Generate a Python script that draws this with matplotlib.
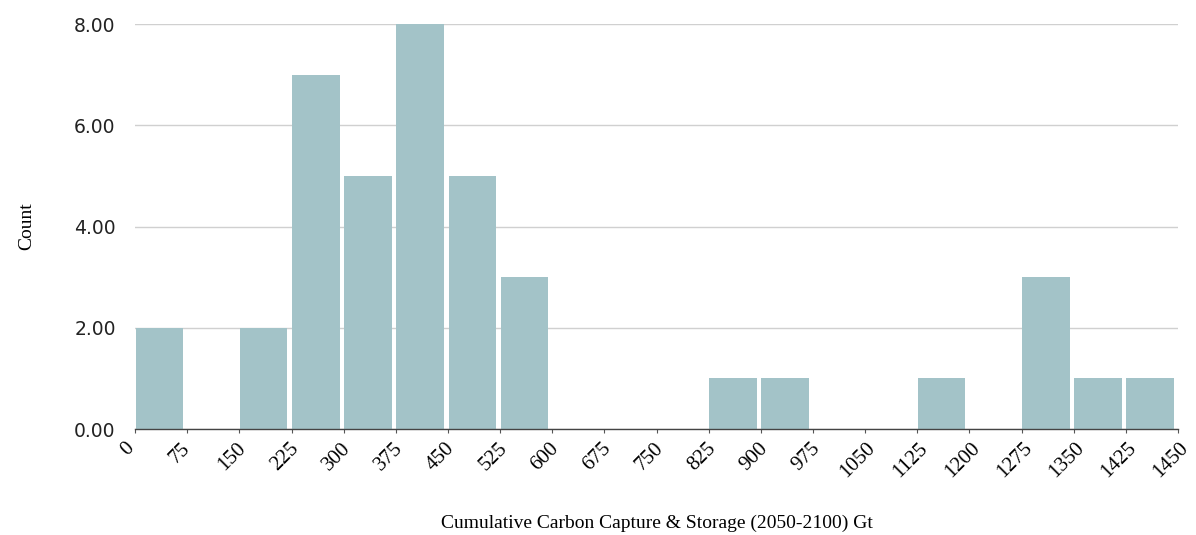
import matplotlib
matplotlib.use('Agg')
import matplotlib.pyplot as plt
import matplotlib.transforms as mtrans
import numpy as np

# bin edges (Gt) and counts per bin
edge_labels = ['0', '75', '150', '225', '300', '375', '450', '525', '600', '675',
               '750', '825', '900', '975', '1050', '1125', '1200', '1275', '1350',
               '1425', '1450']
counts = [2, 0, 2, 7, 5, 8, 5, 3, 0, 0, 0, 1, 1, 0, 0, 1, 0, 3, 1, 1]

BAR = '#a3c3c8'

fig = plt.figure(figsize=(11.96, 5.35), dpi=100)
ax = fig.add_axes([0.113, 0.198, 0.872, 0.757])

x = np.arange(len(counts))
ax.bar(x + 0.01, counts, width=0.91, align='edge', color=BAR, zorder=2)

ax.set_xlim(0, len(counts))
ax.set_ylim(0, 8)
ax.set_yticks(np.arange(0, 9, 2))
ax.set_yticklabels([f'{v:.2f}' for v in np.arange(0, 9, 2)],
                   fontsize=13.5, family='DejaVu Sans', color='#222222')
ax.yaxis.grid(True, color='#d0d0d0', lw=1, zorder=0)
ax.tick_params(axis='y', length=0, pad=14)

ax.set_xticks(np.arange(len(edge_labels)))
ax.set_xticklabels(edge_labels, rotation=45, ha='center', va='top',
                   fontsize=15, family='Liberation Serif')
ax.tick_params(axis='x', length=3, color='#555555', pad=4)
shift = mtrans.ScaledTranslation(-7 / 100, 0, fig.dpi_scale_trans)
for lbl in ax.get_xticklabels():
    lbl.set_transform(lbl.get_transform() + shift)

for s in ['top', 'right', 'left']:
    ax.spines[s].set_visible(False)
ax.spines['bottom'].set_color('#444444')
ax.spines['bottom'].set_linewidth(1)

ax.set_xlabel('Cumulative Carbon Capture & Storage (2050-2100) Gt',
              fontsize=14, family='Liberation Serif', labelpad=24)
ax.set_ylabel('Count', fontsize=14, family='Liberation Serif', labelpad=28)

fig.savefig('out.png', dpi=100)
